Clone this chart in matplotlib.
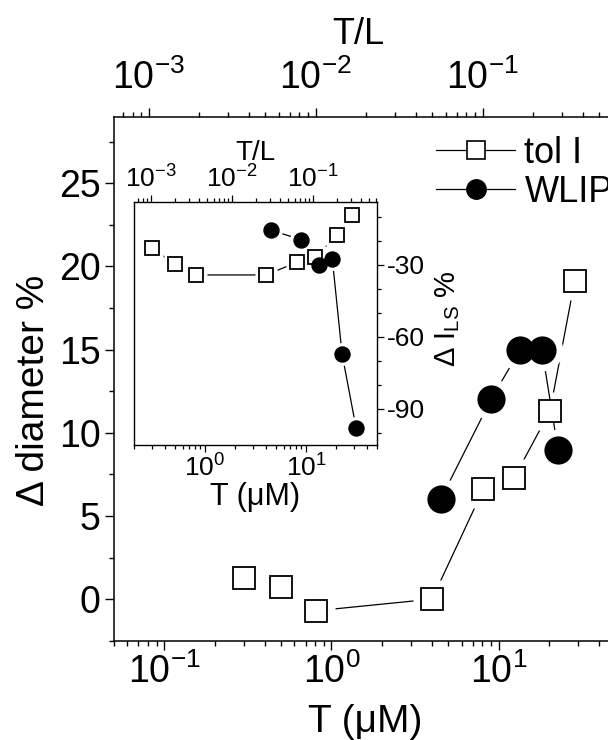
import numpy as np
import matplotlib
matplotlib.use("Agg")
import matplotlib.pyplot as plt
from matplotlib.ticker import LogLocator, FuncFormatter, MultipleLocator, NullFormatter
from matplotlib.lines import Line2D

plt.rcParams['font.family'] = ['Liberation Sans', 'DejaVu Sans']
plt.rcParams['mathtext.fontset'] = 'custom'
plt.rcParams['mathtext.rm'] = 'Liberation Sans'
plt.rcParams['mathtext.it'] = 'Liberation Sans:italic'
plt.rcParams['axes.unicode_minus'] = False

# tol I concentrations (uM) and changes
tol_conc = [0.3, 0.5, 0.81, 4.0, 8.1, 12.4, 20.3, 28.5]
tol_diam = [1.26, 0.72, -0.7, 0.0, 6.6, 7.3, 11.3, 19.1]
tol_ils = [-23.0, -29.7, -34.2, -34.2, -29.0, -26.8, -17.7, -9.1]

# WLIP concentrations (uM) and changes
wlip_conc = [4.5, 9.0, 13.4, 18.2, 22.7, 31.3]
wlip_diam = [6.0, 12.0, 14.96, 14.96, 8.96]
wlip_ils = [-15.6, -19.5, -30.0, -27.6, -67.0, -98.0]

W, H = 608, 740


def decade_fmt(v, pos):
    return r'10$^{%d}$' % int(round(np.log10(v)))


def log_ticks(axis):
    axis.set_major_locator(LogLocator(base=10, numticks=10))
    axis.set_minor_locator(LogLocator(base=10, subs=np.arange(2, 10), numticks=10))
    axis.set_major_formatter(FuncFormatter(decade_fmt))
    axis.set_minor_formatter(NullFormatter())


def gap_plot(ax, x, y, marker, ms, face, halo, z):
    # line, then a white patch round each marker so the line stops short of it
    ax.plot(x, y, '-', color='black', lw=0.9, zorder=z)
    ax.plot(x, y, ls='none', marker=marker, ms=ms + halo, mfc='white', mec='none', zorder=z + 0.1)
    ax.plot(x, y, ls='none', marker=marker, ms=ms, mfc=face, mec='black', mew=1.3, zorder=z + 2)


fig = plt.figure(figsize=(W / 100, H / 100), dpi=100)

# ---- main panel: diameter change ----
ax = fig.add_axes([114 / W, 1 - 640.7 / H, (615.4 - 114) / W, (640.7 - 116.7) / H])
ax.set_xscale('log')
ax.set_xlim(0.05, 50)
ax.set_ylim(-2.5, 29)
for s in ax.spines.values():
    s.set_linewidth(1.1)

gap_plot(ax, tol_conc, tol_diam, 's', 16, 'white', 11, 2.0)
gap_plot(ax, wlip_conc[:5], wlip_diam, 'o', 19, 'black', 11, 2.2)

log_ticks(ax.xaxis)
ax.yaxis.set_major_locator(MultipleLocator(5))
ax.yaxis.set_minor_locator(MultipleLocator(2.5))
ax.tick_params(which='both', direction='out', top=False, right=False, width=1.0)
ax.tick_params(which='major', length=6.5, labelsize=27, pad=3)
ax.tick_params(which='minor', length=3.5)
ax.set_xlabel('T (μM)', fontsize=28, labelpad=9)
ax.set_ylabel('Δ diameter %', fontsize=28)
ax.yaxis.set_label_coords(-0.124, 0.477)

handles = [
    Line2D([], [], color='black', lw=0.9, marker='s', ms=13, mfc='white', mec='black', mew=1.2),
    Line2D([], [], color='black', lw=0.9, marker='o', ms=14, mfc='black', mec='black'),
]
ax.legend(handles, ['tol I', 'WLIP'], loc='upper left', bbox_to_anchor=(436 / W, 1 - 136 / H),
          bbox_transform=fig.transFigure, frameon=False, fontsize=26, handlelength=2.2,
          handletextpad=0.25, borderpad=0, borderaxespad=0, labelspacing=0.1)

# top axis: T/L ratio
axt = ax.twiny()
axt.set_xscale('log')
axt.set_xlim(10 ** -3.208, 10 ** -0.204)
log_ticks(axt.xaxis)
axt.tick_params(which='both', direction='out', width=1.0)
axt.tick_params(which='major', length=6.5, labelsize=27, pad=8)
axt.tick_params(which='minor', length=3.5)
axt.set_xlabel('T/L', fontsize=26)
axt.xaxis.set_label_coords(0.487, 1.138)
for s in axt.spines.values():
    s.set_visible(False)

# ---- inset: light scattering intensity change ----
axi = fig.add_axes([134.3 / W, 1 - 445 / H, (376.7 - 134.3) / W, (445 - 202.4) / H])
axi.set_xscale('log')
axi.set_xlim(0.2, 50)
axi.set_ylim(-105, -4)
for s in axi.spines.values():
    s.set_linewidth(1.0)

gap_plot(axi, tol_conc, tol_ils, 's', 9.5, 'white', 6, 2.0)
gap_plot(axi, wlip_conc, wlip_ils, 'o', 10.5, 'black', 6, 2.2)

log_ticks(axi.xaxis)
axi.yaxis.tick_right()
axi.yaxis.set_label_position('right')
axi.yaxis.set_major_locator(MultipleLocator(30))
axi.yaxis.set_minor_locator(MultipleLocator(10))
axi.tick_params(which='both', direction='out', left=False, top=False, width=0.9)
axi.tick_params(which='major', length=5, labelsize=19, pad=2)
axi.tick_params(which='minor', length=3)
axi.set_xlabel('T (μM)', fontsize=22, labelpad=0)
axi.set_ylabel(r'Δ I$_{\rm LS}$ %', fontsize=21, rotation=90)
axi.yaxis.set_label_coords(1.235, 0.52)

axit = axi.twiny()
axit.set_xscale('log')
axit.set_xlim(10 ** -3.202, 10 ** -0.21)
log_ticks(axit.xaxis)
axit.tick_params(which='both', direction='out', width=0.9)
axit.tick_params(which='major', length=5, labelsize=19, pad=2)
axit.tick_params(which='minor', length=3)
axit.set_xlabel('T/L', fontsize=20, labelpad=4)
for s in axit.spines.values():
    s.set_visible(False)

fig.savefig('out.png', dpi=100)
